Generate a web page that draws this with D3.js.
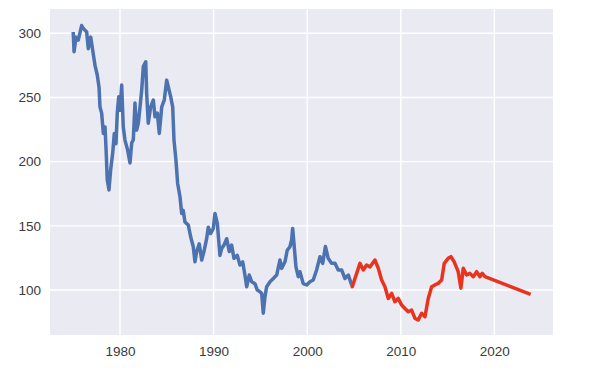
<!DOCTYPE html>
<html>
<head>
<meta charset="utf-8">
<script src="https://cdn.jsdelivr.net/npm/d3@7"></script>
<style>
  body { margin: 0; background: #fff; }
  .tick text { font-family: "Liberation Sans", Arial, sans-serif; font-size: 13.5px; fill: #3a3a3a; }
</style>
</head>
<body>
<div id="chart"></div>
<script>

// history (blue)
var histYears = [1975.0, 1975.09, 1975.3, 1975.54, 1975.9, 1976.08, 1976.44, 1976.61, 1976.87, 1977.08,
  1977.33, 1977.57, 1977.76, 1977.86, 1978.04, 1978.22, 1978.4, 1978.5, 1978.64, 1978.82,
  1979.0, 1979.22, 1979.39, 1979.57, 1979.71, 1979.86, 1980.0, 1980.18, 1980.35, 1980.53,
  1980.82, 1981.07, 1981.25, 1981.42, 1981.6, 1981.78, 1981.96, 1982.14, 1982.32, 1982.49,
  1982.75, 1982.85, 1983.02, 1983.28, 1983.56, 1983.74, 1983.99, 1984.2, 1984.46, 1984.73,
  1984.99, 1985.24, 1985.42, 1985.63, 1985.77, 1985.98, 1986.16, 1986.41, 1986.59, 1986.76,
  1986.94, 1987.3, 1987.55, 1987.83, 1988.01, 1988.19, 1988.47, 1988.73, 1988.97, 1989.26,
  1989.43, 1989.69, 1989.97, 1990.15, 1990.4, 1990.68, 1990.87, 1991.11, 1991.4, 1991.68,
  1991.93, 1992.18, 1992.53, 1992.82, 1993.11, 1993.35, 1993.54, 1993.81, 1994.07, 1994.42,
  1994.67, 1994.96, 1995.14, 1995.31, 1995.49, 1995.67, 1996.03, 1996.38, 1996.74, 1997.09,
  1997.27, 1997.63, 1997.87, 1998.16, 1998.34, 1998.45, 1998.59, 1998.8, 1999.05, 1999.23,
  1999.58, 1999.95, 2000.3, 2000.65, 2001.01, 2001.37, 2001.66, 2001.95, 2002.25, 2002.61,
  2002.97, 2003.32, 2003.69, 2004.04, 2004.4, 2004.75];
var histValues = [301, 285.6, 297, 294.7, 306, 303.8, 301, 288, 297, 287,
  275, 267.5, 258, 242.7, 237.8, 222, 227, 211.6, 185.7, 178,
  193.5, 206.7, 222, 214, 238, 250.5, 240, 259.7, 227, 216.8,
  209, 199, 214.5, 217, 245.6, 224.6, 230, 242.7, 255.8, 274,
  277.8, 253, 230, 242.7, 248, 235, 237.8, 222, 242.7, 248,
  263.5, 255.8, 250.5, 242.7, 216.8, 201, 183, 172.7, 159.7, 162,
  153, 150.6, 141.5, 133.7, 122, 129.8, 136, 123.4, 130, 140,
  149, 144, 148, 159.7, 152, 127, 132.5, 135, 140, 130,
  135, 124.7, 127, 119.5, 122, 111.7, 102.6, 111.7, 106.5, 105,
  100, 98.7, 97.4, 82, 94.8, 102.6, 106.5, 109, 111.7, 123.4,
  116.9, 122, 131, 133.7, 139, 148, 136.4, 118, 110.4, 114.3,
  105, 104, 106.5, 107.8, 115.6, 126, 120.8, 134, 124.7, 120.8,
  120.8, 115.6, 115.6, 109, 111.7, 104];

// test period + forecast (red)
var predYears = [2004.75, 2004.82, 2005.29, 2005.64, 2006.0, 2006.35, 2006.71, 2007.24, 2007.6, 2007.96,
  2008.31, 2008.67, 2009.03, 2009.38, 2009.73, 2010.1, 2010.45, 2010.8, 2011.16, 2011.52,
  2011.87, 2012.23, 2012.59, 2012.94, 2013.3, 2013.65, 2014.0, 2014.37, 2014.65, 2015.07,
  2015.36, 2015.71, 2016.14, 2016.43, 2016.68, 2017.04, 2017.39, 2017.75, 2018.11, 2018.46,
  2018.71, 2019.0, 2023.88];
var predValues = [104, 102.6, 113, 120.8, 115.6, 119.5, 118, 123.4, 117, 107.8,
  102.6, 93.5, 97.4, 90.9, 93.5, 88.3, 85.7, 83.1, 84.4, 78,
  76.8, 81.9, 79.2, 93.5, 102.6, 104, 105.2, 107.8, 120.8, 124.7,
  126, 122, 114.3, 101.5, 117, 111.7, 113, 110.4, 114.3, 110.4,
  113, 110.4, 96.7];

var xTicks = [1980, 1990, 2000, 2010, 2020];
var yTicks = [100, 150, 200, 250, 300];

var W = 604, H = 384;
var margin = {top: 9, right: 51, bottom: 49, left: 50},
    width = W - margin.left - margin.right,
    height = H - margin.top - margin.bottom;

var x = d3.scaleLinear().domain([1972.52, 2026.27]).range([0, width]);
var y = d3.scaleLinear().domain([65, 318.9]).range([height, 0]);

var svg = d3.select("#chart").append("svg")
    .attr("width", W)
    .attr("height", H)
  .append("g")
    .attr("transform", "translate(" + margin.left + "," + margin.top + ")");

svg.append("rect")
    .attr("width", width)
    .attr("height", height)
    .attr("fill", "#eaeaf2");

// grid
svg.append("g").selectAll("line")
    .data(xTicks).enter().append("line")
    .attr("x1", d => x(d)).attr("x2", d => x(d))
    .attr("y1", 0).attr("y2", height)
    .attr("stroke", "#fff").attr("stroke-width", 1.4);

svg.append("g").selectAll("line")
    .data(yTicks).enter().append("line")
    .attr("y1", d => y(d)).attr("y2", d => y(d))
    .attr("x1", 0).attr("x2", width)
    .attr("stroke", "#fff").attr("stroke-width", 1.4);

// axes (labels only)
var xAxis = svg.append("g")
    .attr("transform", "translate(0," + height + ")")
    .call(d3.axisBottom(x).tickValues(xTicks).tickFormat(d3.format("d")).tickSize(0).tickPadding(11));
var yAxis = svg.append("g")
    .call(d3.axisLeft(y).tickValues(yTicks).tickSize(0).tickPadding(9));
xAxis.select(".domain").remove();
yAxis.select(".domain").remove();

var line = d3.line()
    .x(d => x(d[0]))
    .y(d => y(d[1]));

svg.append("path")
    .datum(d3.zip(histYears, histValues))
    .attr("d", line)
    .attr("fill", "none")
    .attr("stroke", "#4c72b0")
    .attr("stroke-width", 3.5)
    .attr("stroke-linejoin", "round");

svg.append("path")
    .datum(d3.zip(predYears, predValues))
    .attr("d", line)
    .attr("fill", "none")
    .attr("stroke", "#e8341f")
    .attr("stroke-width", 3.5)
    .attr("stroke-linejoin", "round");

</script>
</body>
</html>
